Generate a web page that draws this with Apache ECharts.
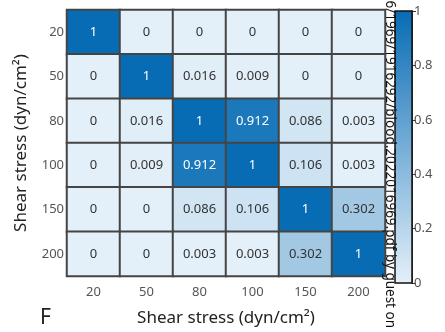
<!DOCTYPE html>
<html>
<head>
<meta charset="utf-8">
<style>
  html, body { margin: 0; padding: 0; background: #fff; }
  #chart { width: 445px; height: 332px; }
</style>
<script src="https://cdn.jsdelivr.net/npm/echarts@6/dist/echarts.min.js"></script>
</head>
<body>
<div id="chart"></div>
<script>
// Shear stress levels (dyn/cm²)
const categories = ['20', '50', '80', '100', '150', '200'];

// Correlation matrix rows (row order follows categories, top to bottom)
const row20  = [1, 0, 0, 0, 0, 0];
const row50  = [0, 1, 0.016, 0.009, 0, 0];
const row80  = [0, 0.016, 1, 0.912, 0.086, 0.003];
const row100 = [0, 0.009, 0.912, 1, 0.106, 0.003];
const row150 = [0, 0, 0.086, 0.106, 1, 0.302];
const row200 = [0, 0, 0.003, 0.003, 0.302, 1];
const matrix = [row20, row50, row80, row100, row150, row200];

// Colour-bar tick values
const colorbarTicks = [0, 0.2, 0.4, 0.6, 0.8, 1];
const colorbarValue = [1];

const LIGHT = '#e4f0f9';
const DARK = '#086cb5';
const FONT = '"Noto Sans", "Open Sans", sans-serif';

const heatData = [];
matrix.forEach((row, r) => {
  row.forEach((v, c) => {
    heatData.push({
      value: [c, r, v],
      label: { color: v > 0.5 ? '#ffffff' : '#333333' }
    });
  });
});

const chart = echarts.init(document.getElementById('chart'));
chart.setOption({
  backgroundColor: '#ffffff',
  animation: false,
  grid: [
    { left: 67, top: 10, width: 318, height: 272 },
    { left: 395, top: 11, width: 17, height: 272, show: true, borderColor: '#111', borderWidth: 1.5, backgroundColor: 'transparent', z: 5 }
  ],
  xAxis: [
    {
      type: 'category', data: categories, gridIndex: 0,
      axisLine: { show: false }, axisTick: { show: false },
      axisLabel: { color: '#555', fontSize: 13, fontFamily: FONT, margin: 10 },
      name: 'Shear stress (dyn/cm²)', nameLocation: 'middle', nameGap: 34,
      nameTextStyle: { color: '#222', fontSize: 17, fontFamily: FONT }
    },
    {
      type: 'category', data: ['c'], gridIndex: 1, show: false
    }
  ],
  yAxis: [
    {
      type: 'category', data: categories, gridIndex: 0, inverse: true,
      axisLine: { show: false }, axisTick: { show: false },
      axisLabel: { color: '#555', fontSize: 13, fontFamily: FONT, margin: 3 },
      name: 'Shear stress (dyn/cm²)', nameLocation: 'middle', nameGap: 37, nameRotate: 90,
      nameTextStyle: { color: '#222', fontSize: 17, fontFamily: FONT }
    },
    {
      type: 'value', gridIndex: 1, min: 0, max: 1, interval: 0.2, position: 'right',
      axisLine: { show: true, lineStyle: { color: '#111', width: 1.5 } },
      axisTick: { show: true, inside: false, length: 4, lineStyle: { color: '#333' } },
      splitLine: { show: false },
      axisLabel: { color: '#555', fontSize: 13, fontFamily: FONT, margin: 2,
        formatter: v => colorbarTicks.includes(+v.toFixed(1)) ? String(+v.toFixed(1)) : '' }
    }
  ],
  visualMap: {
    show: false, type: 'continuous', min: 0, max: 1, seriesIndex: 0,
    inRange: { color: [LIGHT, DARK] }
  },
  series: [
    {
      type: 'heatmap', xAxisIndex: 0, yAxisIndex: 0,
      data: heatData,
      itemStyle: { borderColor: '#444', borderWidth: 2 },
      label: {
        show: true, fontSize: 13, fontFamily: FONT,
        formatter: p => {
          const v = p.value[2];
          return (v === 0 || v === 1) ? String(v) : v.toFixed(3);
        }
      }
    },
    {
      type: 'bar', xAxisIndex: 1, yAxisIndex: 1,
      data: colorbarValue, barWidth: '100%', silent: true,
      itemStyle: {
        color: new echarts.graphic.LinearGradient(0, 1, 0, 0, [
          { offset: 0, color: LIGHT },
          { offset: 1, color: DARK }
        ])
      }
    }
  ],
  graphic: [
    {
      type: 'text', left: 40, top: 308,
      style: { text: 'F', fontSize: 21, fontFamily: FONT, fill: '#222' }
    },
    {
      // vertical download note running down the right edge
      type: 'text', x: 390, y: 328, rotation: -Math.PI / 2, z: 10,
      style: {
        text: 'Downloaded from http://ashpublications.org/blood/article-pdf/141/16/1969/1916292/blood.2022016969.pdf by guest on',
        fontSize: 13.5, fontFamily: FONT, fill: '#111',
        textAlign: 'right', textVerticalAlign: 'middle'
      }
    }
  ]
});
</script>
</body>
</html>
